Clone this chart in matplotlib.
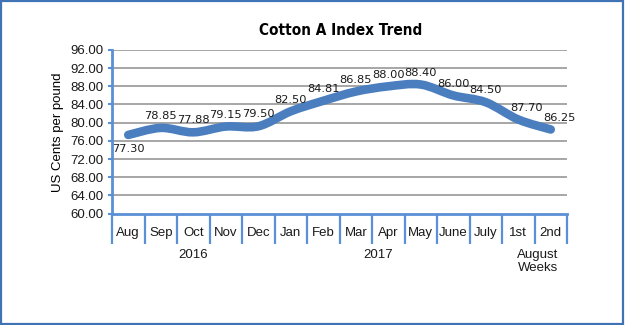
import numpy as np
import matplotlib
matplotlib.use("Agg")
import matplotlib.pyplot as plt
from matplotlib.path import Path
from matplotlib.patches import PathPatch, Rectangle
import matplotlib.transforms as mtransforms

# data
months = ["Aug", "Sep", "Oct", "Nov", "Dec", "Jan", "Feb", "Mar", "Apr",
          "May", "June", "July", "1st", "2nd"]
line_values = [77.30, 78.85, 77.88, 79.15, 79.20, 82.50, 84.81, 86.85,
               88.00, 88.40, 86.00, 84.50, 80.70, 78.50]
label_values = [77.30, 78.85, 77.88, 79.15, 79.50, 82.50, 84.81, 86.85,
                88.00, 88.40, 86.00, 84.50, 87.70, 86.25]
groups = ["2016", "2017", "August\nWeeks"]
y_ticks = [60, 64, 68, 72, 76, 80, 84, 88, 92, 96]

line_blue = "#4a7ebf"
axis_blue = "#5b8fd6"
border_blue = "#3f73b6"

plt.rcParams["font.family"] = ["Liberation Sans", "DejaVu Sans"]

fig = plt.figure(figsize=(6.25, 3.25), dpi=100)
fig.patch.set_facecolor("white")
fig.patches.append(Rectangle((0.002, 0.003), 0.994, 0.993, transform=fig.transFigure,
                             fill=False, edgecolor=border_blue, linewidth=1.6))

ax = fig.add_axes([0.1792, 0.343, 0.728, 0.5032])
n = len(months)
x = np.arange(n)
ax.set_xlim(-0.5, n - 0.5)
ax.set_ylim(60, 96)

# gridlines
for v in y_ticks[1:]:
    ax.axhline(v, color="#a6a6a6", linewidth=1.4, zorder=1)

# smooth line (catmull-rom bezier through the points)
pts = np.column_stack([x, line_values])
verts = [tuple(pts[0])]
codes = [Path.MOVETO]
for i in range(n - 1):
    p0 = pts[i - 1] if i > 0 else pts[i]
    p1 = pts[i]
    p2 = pts[i + 1]
    p3 = pts[i + 2] if i + 2 < n else pts[i + 1]
    c1 = p1 + (p2 - p0) / 6.0
    c2 = p2 - (p3 - p1) / 6.0
    verts += [tuple(c1), tuple(c2), tuple(p2)]
    codes += [Path.CURVE4] * 3
ax.add_patch(PathPatch(Path(verts, codes), fill=False, edgecolor=line_blue,
                       linewidth=6.2, capstyle="round", joinstyle="round", zorder=3))

# data labels
for i, (xv, yv, lab) in enumerate(zip(x, line_values, label_values)):
    dx, dy = 0, 8.5
    if i == 0:
        dy = -10
    elif i >= 12:
        dx = 6
    ax.annotate(f"{lab:.2f}", (xv, yv), xytext=(dx, dy), textcoords="offset points",
                ha="center", va="center", fontsize=8.2, color="#1a1a1a",
                family=["DejaVu Sans"], zorder=4)

# axes styling
for s in ["top", "right"]:
    ax.spines[s].set_visible(False)
ax.spines["left"].set_color(axis_blue)
ax.spines["left"].set_linewidth(2.0)
ax.spines["bottom"].set_color(axis_blue)
ax.spines["bottom"].set_linewidth(2.0)

ax.set_yticks(y_ticks)
ax.set_yticklabels([f"{v:.2f}" for v in y_ticks], fontsize=9.5, color="#1a1a1a")
ax.tick_params(axis="y", length=3, width=1.5, color=axis_blue, pad=3)

ax.set_xticks(x)
ax.set_xticklabels(months, fontsize=9.5, color="#1a1a1a")
ax.set_xticks(np.arange(-0.5, n, 1.0), minor=True)
ax.tick_params(axis="x", which="major", length=0, pad=10)
ax.tick_params(axis="x", which="minor", length=21.5, width=1.6, color=axis_blue)

ax.set_ylabel("US Cents per pound", fontsize=9.5, labelpad=5)

# group labels under the categories
trans = mtransforms.blended_transform_factory(ax.transData, ax.transAxes)
for name, gx in zip(groups, [2.0, 7.7, 12.6]):
    ax.text(gx, -0.215, name, transform=trans, ha="center", va="top",
            fontsize=9.5, color="#1a1a1a", linespacing=1.1)

fig.text(0.545, 0.905, "Cotton A Index Trend", ha="center", va="center",
         fontsize=11, fontweight="bold",
         family=["Liberation Sans Narrow", "DejaVu Sans"], fontstretch="condensed")

fig.savefig("out.png", dpi=100)
